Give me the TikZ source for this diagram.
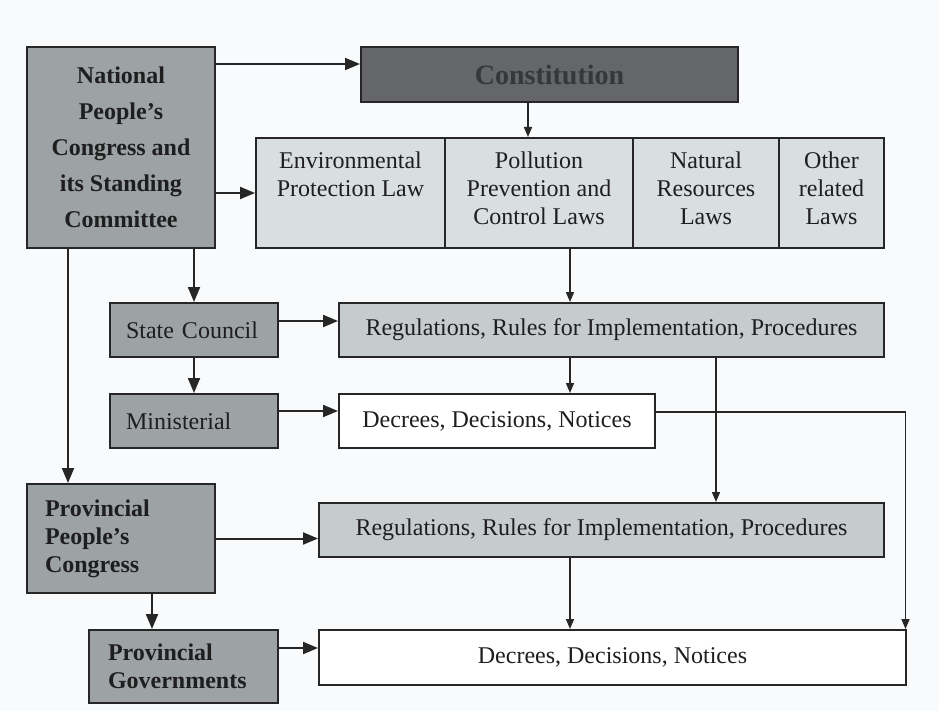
\documentclass[tikz,border=0pt]{standalone}
\usepackage{fontspec}
\setmainfont{Liberation Serif}
\usetikzlibrary{arrows.meta, positioning, calc}

\definecolor{bgcol}{HTML}{F8FAFB}
\definecolor{orgcol}{HTML}{9DA2A5}
\definecolor{constcol}{HTML}{646669}
\definecolor{consttext}{HTML}{35383A}
\definecolor{lawcol}{HTML}{D9DEE0}
\definecolor{regcol}{HTML}{C6CBCD}
\definecolor{linecol}{HTML}{262626}
\definecolor{textcol}{HTML}{1E1E1E}

\begin{document}
\begin{tikzpicture}[x=1pt, y=-1pt,
    box/.style={draw=linecol, line width=2pt, inner sep=0pt, text=textcol,
                font=\fontsize{24}{28}\selectfont},
    org/.style={box, fill=orgcol, align=left},
    lawtxt/.style={inner sep=0pt, align=center, text=textcol,
                   font=\fontsize{24}{28}\selectfont},
    bigarr/.style={draw=linecol, line width=2pt, -{Triangle[length=15pt,width=12pt]}},
    smallarr/.style={draw=linecol, line width=1.6pt, -{Triangle[length=10pt,width=8pt]}}]

% page
\fill[bgcol] (0,0) rectangle (939,711);
\useasboundingbox (0,0) rectangle (939,711);

% bodies
\node[box, fill=orgcol, minimum width=188pt, minimum height=201pt, align=center,
      font=\fontsize{24}{36}\selectfont\bfseries] (npc) at (121,147.5)
      {National\\People's\\Congress and\\its Standing\\Committee};
\node[box, fill=constcol, minimum width=377pt, minimum height=55pt, text=consttext,
      font=\fontsize{28}{34}\selectfont\bfseries] (const) at (549.5,74.5) {Constitution};

% laws
\node[box, fill=lawcol, minimum width=189pt, minimum height=110pt] (env) at (350.5,193) {};
\node[box, fill=lawcol, minimum width=188pt, minimum height=110pt] (poll) at (539,193) {};
\node[box, fill=lawcol, minimum width=146pt, minimum height=110pt] (nat) at (706,193) {};
\node[box, fill=lawcol, minimum width=105pt, minimum height=110pt] (other) at (831.5,193) {};
\node[lawtxt, below=15pt of env.north] (envtxt) {Environmental\\Protection Law};
\node[lawtxt, below=15pt of poll.north] (polltxt) {Pollution\\Prevention and\\Control Laws};
\node[lawtxt, below=15pt of nat.north] (nattxt) {Natural\\Resources\\Laws};
\node[lawtxt, below=15pt of other.north] (othertxt) {Other\\related\\Laws};

% state level
\node[org, text width=136pt, inner xsep=16pt, minimum height=54pt] (sc) at (194,330) {State Council};
\node[org, text width=136pt, inner xsep=16pt, minimum height=54pt] (min) at (194,421) {Ministerial};
\node[box, fill=regcol, minimum width=545pt, minimum height=54pt] (sregs) at (611.5,330)
      {Regulations, Rules for Implementation, Procedures};
\node[box, fill=white, minimum width=316pt, minimum height=54pt] (sdec) at (497,421)
      {Decrees, Decisions, Notices};

% provincial level
\node[org, text width=152pt, inner xsep=18pt, minimum height=109pt, font=\fontsize{24}{28}\selectfont\bfseries]
      (ppc) at (121,538.5) {Provincial\\People's\\Congress};
\node[org, text width=151pt, inner xsep=19pt, minimum height=73pt, font=\fontsize{24}{28}\selectfont\bfseries]
      (pg) at (183.5,666.5) {Provincial\\Governments};
\node[box, fill=regcol, minimum width=565pt, minimum height=54pt] (pregs) at (601.5,530)
      {Regulations, Rules for Implementation, Procedures};
\node[box, fill=white, minimum width=587pt, minimum height=55pt] (pdec) at (612.5,657.5)
      {Decrees, Decisions, Notices};

% links from the bodies
\draw[bigarr] ($(npc.north east)+(0,18)$) -- ($(const.north west)+(0,18)$);
\draw[bigarr] (npc.east |- env.west) -- (env.west);
\draw[bigarr] (sc.north |- npc.south) -- (sc.north);
\draw[bigarr] ([xshift=-53pt]npc.south) -- ([xshift=-53pt]npc.south |- ppc.north);
\draw[bigarr] ([yshift=9pt]sc.east) -- ([yshift=9pt]sc.east -| sregs.west);
\draw[bigarr] (sc) -- (min);
\draw[bigarr] ([yshift=10pt]min.east) -- ([yshift=10pt]min.east -| sdec.west);
\draw[bigarr] (ppc.east) -- (ppc.east -| pregs.west);
\draw[bigarr] ([xshift=-31.5pt]pg.north |- ppc.south) -- ([xshift=-31.5pt]pg.north);
\draw[bigarr] ([yshift=18.5pt]pg.east) -- ([yshift=18.5pt]pg.east -| pdec.west);

% links between the texts
\draw[smallarr] ([xshift=-11pt]poll.north |- const.south) -- ([xshift=-11pt]poll.north);
\draw[smallarr] ([xshift=31pt]poll.south) -- ([xshift=31pt]poll.south |- sregs.north);
\draw[smallarr] ([xshift=73pt]sdec.north |- sregs.south) -- ([xshift=73pt]sdec.north);
\draw[smallarr] ([xshift=104.5pt]sregs.south) -- ([xshift=104.5pt]sregs.south |- pregs.north);
\draw[smallarr] ([xshift=-31.5pt]pregs.south) -- ([xshift=-31.5pt]pregs.south |- pdec.north);
\draw[smallarr] ([yshift=9pt]sdec.east) -| ([xshift=-1.5pt]pdec.north east);
\end{tikzpicture}
\end{document}
